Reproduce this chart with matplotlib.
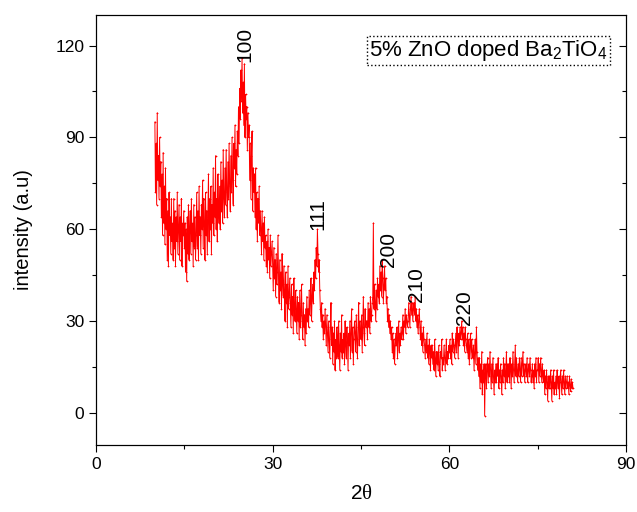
import numpy as np
import matplotlib
matplotlib.use("Agg")
import matplotlib.pyplot as plt

plt.rcParams['font.family'] = ['Liberation Sans', 'DejaVu Sans']
plt.rcParams['mathtext.fontset'] = 'custom'
plt.rcParams['mathtext.rm'] = 'Liberation Sans'
plt.rcParams['mathtext.it'] = 'Liberation Serif'

# 2-theta scan, 0.1 degree steps from 10.0 to 81.0 (one row per degree)
two_theta_start = 10.0
two_theta_step = 0.1
intensity = [
    95, 72, 88, 68, 98, 76, 84, 70, 90, 74,
    82, 64, 78, 58, 85, 62, 74, 55, 80, 60,
    70, 50, 66, 48, 72, 58, 64, 52, 70, 56,
    62, 50, 70, 54, 66, 48, 64, 56, 72, 52,
    60, 68, 50, 64, 56, 70, 48, 62, 58, 66,
    54, 62, 46, 60, 43, 64, 52, 68, 50, 60,
    66, 52, 70, 56, 62, 48, 68, 54, 64, 50,
    58, 72, 54, 66, 50, 74, 58, 64, 52, 68,
    60, 76, 54, 70, 62, 50, 72, 58, 66, 52,
    64, 78, 56, 70, 60, 74, 52, 68, 62, 80,
    58, 72, 64, 84, 60, 70, 56, 78, 66, 62,
    74, 60, 82, 66, 76, 62, 86, 70, 64, 80,
    68, 86, 72, 64, 82, 70, 88, 74, 66, 84,
    72, 90, 76, 68, 88, 80, 94, 74, 86, 78,
    92, 84, 100, 88, 106, 96, 112, 102, 116, 98,
    108, 94, 114, 90, 104, 96, 100, 86, 98, 90,
    94, 76, 88, 70, 84, 92, 66, 80, 72, 78,
    64, 80, 60, 72, 56, 70, 62, 74, 58, 66,
    60, 52, 66, 56, 62, 50, 64, 54, 58, 48,
    56, 46, 60, 50, 54, 44, 58, 48, 52, 56,
    48, 40, 54, 44, 50, 38, 52, 42, 46, 58,
    44, 36, 50, 40, 46, 34, 52, 42, 38, 48,
    40, 30, 46, 36, 42, 28, 48, 34, 38, 44,
    36, 28, 42, 32, 38, 26, 44, 34, 30, 40,
    34, 26, 38, 30, 36, 24, 40, 28, 32, 42,
    30, 24, 36, 28, 32, 22, 34, 26, 38, 30,
    34, 28, 40, 32, 36, 44, 30, 38, 42, 36,
    46, 40, 50, 44, 54, 48, 60, 52, 46, 50,
    40, 34, 30, 36, 28, 32, 24, 30, 26, 34,
    28, 22, 32, 26, 20, 30, 24, 18, 28, 36,
    22, 28, 16, 26, 20, 30, 14, 24, 18, 28,
    24, 18, 30, 22, 14, 26, 20, 32, 18, 24,
    20, 26, 16, 30, 22, 18, 28, 24, 14, 26,
    22, 30, 18, 26, 34, 20, 28, 16, 24, 30,
    26, 20, 32, 24, 18, 28, 36, 22, 30, 26,
    24, 32, 20, 28, 38, 26, 22, 34, 28, 30,
    30, 24, 36, 28, 34, 26, 38, 30, 32, 36,
    38, 62, 34, 42, 36, 30, 40, 34, 44, 38,
    42, 36, 48, 40, 46, 38, 50, 44, 36, 42,
    48, 40, 44, 36, 38, 30, 34, 28, 32, 26,
    30, 24, 28, 20, 26, 18, 24, 16, 22, 26,
    22, 28, 18, 24, 30, 20, 26, 22, 28, 24,
    26, 32, 24, 30, 28, 34, 26, 32, 30, 28,
    30, 36, 32, 28, 34, 38, 32, 36, 30, 34,
    36, 32, 38, 30, 34, 28, 32, 26, 30, 34,
    28, 24, 30, 22, 26, 20, 28, 24, 22, 18,
    24, 20, 26, 18, 22, 16, 24, 20, 14, 22,
    18, 22, 16, 20, 14, 24, 18, 12, 20, 16,
    20, 14, 22, 16, 12, 20, 18, 24, 14, 18,
    16, 22, 18, 14, 20, 24, 16, 20, 18, 22,
    20, 24, 18, 22, 16, 26, 20, 24, 22, 18,
    22, 26, 20, 28, 24, 18, 26, 22, 28, 24,
    26, 30, 24, 28, 22, 26, 20, 28, 24, 22,
    20, 26, 18, 24, 16, 22, 26, 18, 24, 20,
    18, 22, 14, 20, 24, 16, 28, 20, 14, 18,
    12, 18, 8, 16, 10, 20, 6, 14, 10, 16,
    -1, 12, 16, 8, 14, 18, 10, 16, 12, 20,
    14, 8, 16, 10, 18, 12, 6, 14, 10, 16,
    10, 16, 12, 18, 8, 14, 10, 16, 12, 6,
    14, 10, 18, 12, 16, 8, 14, 20, 10, 16,
    12, 16, 10, 18, 14, 8, 16, 12, 20, 14,
    10, 16, 22, 12, 18, 14, 10, 16, 12, 18,
    14, 10, 18, 12, 16, 20, 12, 16, 10, 14,
    16, 12, 18, 10, 14, 16, 12, 18, 14, 10,
    12, 16, 10, 14, 8, 16, 12, 18, 10, 14,
    14, 18, 10, 16, 12, 18, 14, 10, 16, 12,
    10, 14, 6, 12, 8, 14, 10, 4, 12, 8,
    12, 8, 14, 10, 4, 12, 8, 14, 6, 10,
    8, 12, 6, 14, 10, 8, 12, 5, 10, 14,
    10, 6, 12, 8, 14, 10, 6, 12, 8, 10,
    12, 8, 10, 6, 12, 9, 7, 11, 8, 10,
    8,
]
two_theta = two_theta_start + two_theta_step * np.arange(len(intensity))

# Miller indices and the peak positions/heights they annotate
peak_labels = ["100", "111", "200", "210", "220"]
peak_x = [25.3, 37.7, 49.6, 54.5, 62.5]
peak_y = [114.7, 59.8, 47.7, 36.3, 28.8]

fig = plt.figure(figsize=(6.37, 5.12), dpi=100)
ax = fig.add_axes([0.1507, 0.1309, 0.832, 0.840])

ax.plot(two_theta, intensity, color='red', lw=0.7, marker='+', ms=2.0, mew=0.5)

for lab, px, py in zip(peak_labels, peak_x, peak_y):
    ax.text(px, py, lab, rotation=90, ha='center', va='bottom', fontsize=15)

ax.text(0.516, 0.917, r"5% ZnO doped Ba$_\mathregular{2}$TiO$_\mathregular{4}$",
        transform=ax.transAxes, fontsize=16, va='center', ha='left',
        bbox=dict(boxstyle='square,pad=0.1', fc='white', ec='black', ls=':', lw=1))

ax.set_xlim(0, 90)
ax.set_ylim(-10.5, 130)
ax.set_xticks([0, 30, 60, 90])
ax.set_xticks([15, 45, 75], minor=True)
ax.set_yticks([0, 30, 60, 90, 120])
ax.set_yticks([15, 45, 75, 105], minor=True)
ax.tick_params(axis='both', which='major', labelsize=12.5, direction='out', length=5, width=0.8)
ax.tick_params(axis='both', which='minor', direction='out', length=3, width=0.8)

# inward ticks along the right spine
axr = ax.twinx()
axr.set_ylim(ax.get_ylim())
axr.set_yticks([0, 30, 60, 90, 120])
axr.set_yticks([15, 45, 75, 105], minor=True)
axr.tick_params(axis='y', which='major', direction='in', length=5, width=0.8, labelright=False)
axr.tick_params(axis='y', which='minor', direction='in', length=3, width=0.8)

ax.set_xlabel(r"2$\theta$", fontsize=15, labelpad=9)
ax.set_ylabel("intensity (a.u)", fontsize=14.5, labelpad=16)

for a in (ax, axr):
    for s in a.spines.values():
        s.set_linewidth(0.8)

fig.savefig("out.png", dpi=100)
